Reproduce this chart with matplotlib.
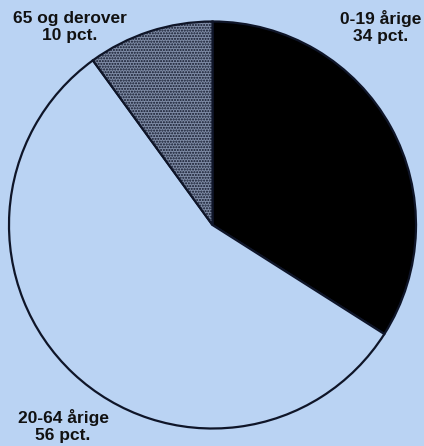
import matplotlib
matplotlib.use("Agg")
import matplotlib.pyplot as plt

# Aldersfordeling
labels = ["0-19 årige", "20-64 årige", "65 og derover"]
shares = [34, 56, 10]
pct_labels = ["34 pct.", "56 pct.", "10 pct."]

BG = "#bad3f3"
EDGE = "#0f1528"

W, H = 424, 446
fig = plt.figure(figsize=(W / 100, H / 100), dpi=100)
fig.patch.set_facecolor(BG)
ax = fig.add_axes([0, 0, 1, 1])
ax.set_facecolor(BG)

wedges, _ = ax.pie(
    shares,
    startangle=90,
    counterclock=False,
    colors=["black", BG, "#7f8ca6"],
    wedgeprops=dict(edgecolor=EDGE, linewidth=1.6),
)
wedges[2].set_hatch("......")

# pie geometry in pixels (center from top-left, radius)
cx, cy, r = 212.5, 225, 203.5
ax.set_xlim(-cx / r, (W - cx) / r)
ax.set_ylim(-(H - cy) / r, cy / r)
ax.set_aspect("equal")
ax.axis("off")

# labels placed in pixel coordinates
label_pos = [(381, 27), (63, 426), (70, 27)]
for lab, pct, (px, py) in zip(labels, pct_labels, label_pos):
    fig.text(px / W, 1 - py / H, f"{lab}\n{pct}", ha="center", va="center",
             fontsize=12.5, fontweight="bold", family="Liberation Sans",
             color="#111111", linespacing=1.2)

fig.savefig("out.png", dpi=100, facecolor=BG)
